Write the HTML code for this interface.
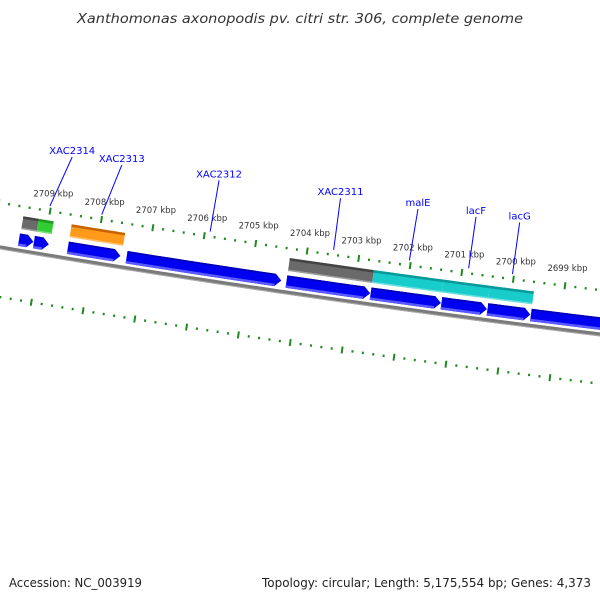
<!DOCTYPE html>
<html><head><meta charset="utf-8"><style>
html,body{margin:0;padding:0;background:#fff;}
svg{display:block;}
text{font-family:"DejaVu Sans","Liberation Sans",sans-serif;}
</style></head><body>
<svg id="chart" width="600" height="600" viewBox="0 0 600 600" xmlns="http://www.w3.org/2000/svg">
<rect width="600" height="600" fill="#fff"/>
<text x="300" y="23" text-anchor="middle" font-size="13" font-style="italic" fill="#333" textLength="446" lengthAdjust="spacingAndGlyphs">Xanthomonas axonopodis pv. citri str. 306, complete genome</text>
<text x="9" y="587" font-size="12" fill="#222" textLength="133" lengthAdjust="spacingAndGlyphs">Accession: NC_003919</text>
<text x="591" y="587" text-anchor="end" font-size="12" fill="#222" textLength="329" lengthAdjust="spacingAndGlyphs">Topology: circular; Length: 5,175,554 bp; Genes: 4,373</text>
<g id="map"></g>
</svg>
<script>
// tick data (kbp)
const tickKbp = [2709, 2708, 2707, 2706, 2705, 2704, 2703, 2702, 2701, 2700, 2699];
const tickLabels = ["2709 kbp","2708 kbp","2707 kbp","2706 kbp","2705 kbp","2704 kbp","2703 kbp","2702 kbp","2701 kbp","2700 kbp","2699 kbp"];
// genes (kbp start/end, direction toward decreasing kbp)
const geneStart = [2709.50, 2709.21, 2708.55, 2707.41, 2704.31, 2702.68, 2701.31, 2700.42, 2699.58];
const geneEnd   = [2709.22, 2708.92, 2707.53, 2704.41, 2702.69, 2701.32, 2700.43, 2699.59, 2697.50];
// features
const featStart = [2709.49, 2709.19, 2708.55, 2704.31, 2702.68, 2701.33, 2700.43];
const featEnd   = [2709.19, 2708.90, 2707.51, 2702.68, 2701.33, 2700.43, 2699.58];
const featType  = ["gray", "green", "orange", "gray", "cyan", "cyan", "cyan"];
// gene labels
const labelText   = ["XAC2314", "XAC2313", "XAC2312", "XAC2311", "malE", "lacF", "lacG"];
const labelKbpLow = [2709.02, 2708.01, 2705.90, 2703.50, 2702.03, 2700.88, 2700.03];
const labelKbpTop = [2708.75, 2707.78, 2705.88, 2703.51, 2702.00, 2700.87, 2700.02];

const CX = 2165.5, CY = -12571, R = 13000, TH0 = 99.397, DTH = 0.2301, K0 = 2709;
function pt(kbp, v) {
  const th = (TH0 - (K0 - kbp) * DTH) * Math.PI / 180;
  const r = R - v;
  return [CX + r * Math.cos(th), CY + r * Math.sin(th)];
}
function f(p){return p[0].toFixed(2)+","+p[1].toFixed(2);}
function edge(a, b, v, n) { const out=[]; for(let i=0;i<=n;i++){out.push(pt(a+(b-a)*i/n, v));} return out; }
const NS = "http://www.w3.org/2000/svg";
const g = document.getElementById("map");
function mk(tag, attrs, parent) {
  const el = document.createElementNS(NS, tag);
  for (const k in attrs) el.setAttribute(k, attrs[k]);
  (parent || g).appendChild(el);
  return el;
}
function band(a, b, v1, v2, fill, name) {
  const pts = edge(a, b, v1, 12).concat(edge(b, a, v2, 12));
  const el = mk("polygon", {points: pts.map(f).join(" "), fill: fill});
  
  
  return el;
}

// backbone
(function(){
  const pts = edge(2710.2, 2697.0, 0, 60).map(f).join(" ");
  const l1 = mk("polyline", {points: pts, fill: "none", stroke: "#7a7a7a", "stroke-width": 4});
  
  
  const l2 = mk("polyline", {points: edge(2710.2, 2697.0, -1.5, 60).map(f).join(" "), fill: "none", stroke: "#aaaaaa", "stroke-width": 1});
  
  
})();

// tick rings
function ring(vMid, shift, nm) {
  for (let k = 2710; k >= 2697.6; k -= 0.2) {
    const kk = Math.round(k * 10) / 10 + shift;
    const major = Math.abs(kk - shift - Math.round(kk - shift)) < 0.01;
    const h = major ? 3.5 : 1.2;
    const a = pt(kk, vMid - h), b = pt(kk, vMid + h);
    const t = mk("line", {x1: a[0], y1: a[1], x2: b[0], y2: b[1], stroke: "#1f8a1f", "stroke-width": 2});
    
    
  }
}
ring(44, 0, "outer-ring");
ring(-49, 0.07, "inner-ring");

// tick labels
tickKbp.forEach((k, i) => {
  const p = pt(k, 64);
  const t = mk("text", {x: p[0], y: p[1] + 5, "text-anchor": "middle", "font-size": 8.5, fill: "#333"});
  t.textContent = tickLabels[i];
  
  
});

// features
const featColors = {gray: ["#6a6a6a", "#444"], green: ["#33cc33", "#229922"], orange: ["#ff9a1a", "#c86400"], cyan: ["#19cccc", "#0a9999"]};
featStart.forEach((s, i) => {
  const c = featColors[featType[i]];
  band(s, featEnd[i], 21.5, 34.5, c[0], 'feature-' + featType[i]);
  band(s, featEnd[i], 32, 34.5, c[1], 'feature-top-edge');
  band(s, featEnd[i], 21.5, 23, "rgba(255,255,255,0.35)", 'feature-bottom-edge');
});

// genes
geneStart.forEach((s, i) => {
  const e = geneEnd[i];
  const head = Math.min(0.12, (s - e) * 0.45);
  const b = e + head;
  const pts = edge(s, b, 17, 10).concat([pt(e, 11)]).concat(edge(b, s, 4.5, 10));
  const el = mk("polygon", {points: pts.map(f).join(" "), fill: "#0000f0"});
  
  
  band(s, b, 15.5, 17, "#0000b0", 'gene-top-edge');
  band(s, b, 4.5, 7, "#5a5aff", 'gene-bottom-edge');
});

// labels
labelText.forEach((txt, i) => {
  const a = pt(labelKbpLow[i], 49), b = pt(labelKbpTop[i], 101);
  const l = mk("line", {x1: a[0], y1: a[1], x2: b[0], y2: b[1], stroke: "#0000ff", "stroke-width": 1});
  
  
  const t = mk("text", {x: b[0], y: b[1] - 3, "text-anchor": "middle", "font-size": 10, fill: "#0000ff"});
  t.textContent = txt;
  
  
});
</script>
</body></html>
